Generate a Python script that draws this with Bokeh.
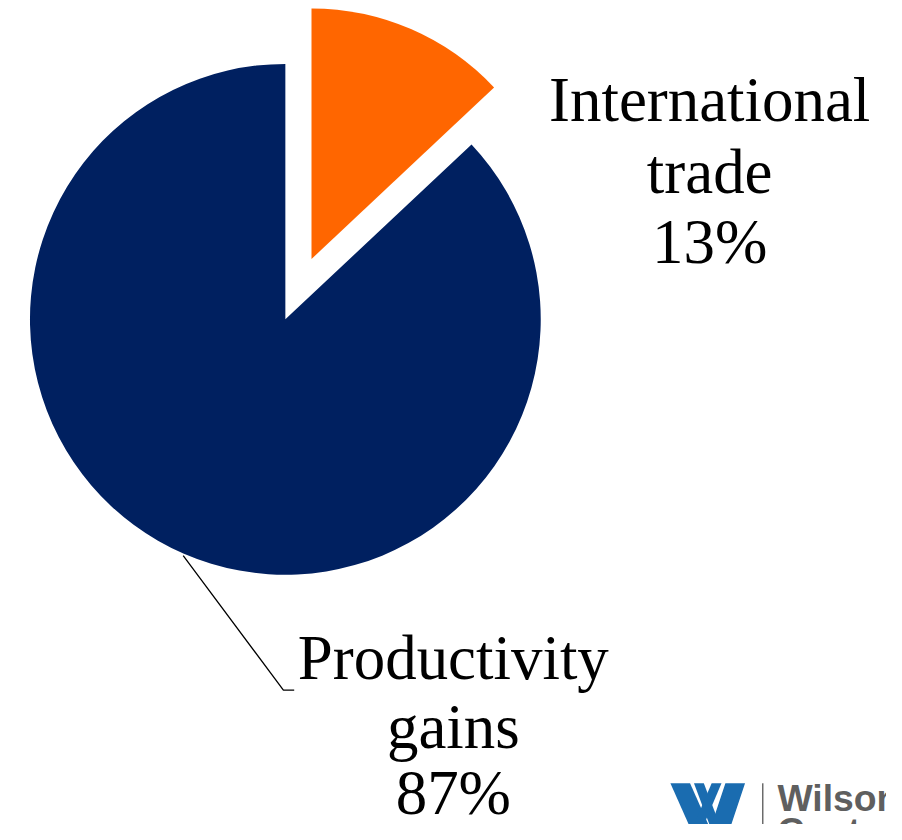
import math
from bokeh.plotting import figure
from bokeh.models import Range1d
from bokeh.core.properties import value
from bokeh.embed import file_html
from bokeh.resources import INLINE

# ---- data ----
categories = ["International trade", "Productivity gains"]
shares = [13, 87]
pct_labels = ["13%", "87%"]
colors = ["#FF6600", "#002060"]

# ---- layout (reference pixel coordinates 902x840, y measured downward) ----
W, H = 886, 824
RW, RH = 902, 840
TXT = 21  # correction for how the svg backend places alphabetic baselines
def Y(y):
    return RH - y

p = figure(width=W, height=H, output_backend="svg", toolbar_location=None,
           x_range=Range1d(0, RW), y_range=Range1d(0, RH),
           min_border=0, outline_line_color=None, background_fill_color="white",
           border_fill_color="white")
p.axis.visible = False
p.grid.visible = False

cx, cy = 290, 325
radius = [255, 260]
explode = [67, 0]

total = float(sum(shares))
start = math.pi / 2
for i, v in enumerate(shares):
    frac = v / total
    end = start - frac * 2 * math.pi
    mid = (start + end) / 2
    ox = explode[i] * math.cos(mid)
    oy = explode[i] * math.sin(mid)
    p.wedge(x=[cx + ox], y=[Y(cy) + oy], radius=radius[i],
            start_angle=[end], end_angle=[start], direction="anticlock",
            fill_color=colors[i], line_color=None)
    start = end

# leader line for the big slice
p.line([186, 288, 299], [Y(566), Y(703), Y(703)], line_color="black", line_width=1.3)

serif = value("Liberation Serif")
fs = "%.1fpx" % (64 * W / RW)
def label(x, ys, lines):
    for yy, t in zip(ys, lines):
        p.text(x=[x], y=[Y(yy - TXT)], text=[t], text_font=serif, text_font_size=fs,
               text_align="center", text_baseline="alphabetic", text_color="black")

label(722, [122, 196, 267], [categories[0].split()[0], categories[0].split()[1], pct_labels[0]])
label(461, [691, 762, 829], [categories[1].split()[0], categories[1].split()[1], pct_labels[1]])

# ---- Wilson Center logo (partial, bottom right) ----
blue = "#1A6CB0"
top, bot = 798, 870
strokes = [
    [(682, top), (702, top), (734, bot), (714, bot)],
    [(706, top), (716, top), (736, 850), (730, 862)],
    [(724, top), (734, top), (712, 850), (706, 840)],
    [(738, top), (758, top), (734, bot), (714, bot)],
]
for s in strokes:
    p.patch([q[0] for q in s], [Y(q[1]) for q in s], fill_color=blue, line_color=None)
p.line([776, 776], [Y(798), Y(845)], line_color="#6b6b6b", line_width=1.5)
lfs = "%.1fpx" % (38 * W / RW)
p.text(x=[791], y=[Y(825 - 12)], text=["Wilson"], text_font=value("Liberation Sans"),
       text_font_style="bold", text_font_size=lfs, text_color="#5f5f5f",
       text_align="left", text_baseline="alphabetic")
p.text(x=[791], y=[Y(859 - 12)], text=["Center"], text_font=value("Liberation Sans"),
       text_font_style="bold", text_font_size=lfs, text_color="#5f5f5f",
       text_align="left", text_baseline="alphabetic")

open("out.html", "w").write(file_html(p, INLINE))
